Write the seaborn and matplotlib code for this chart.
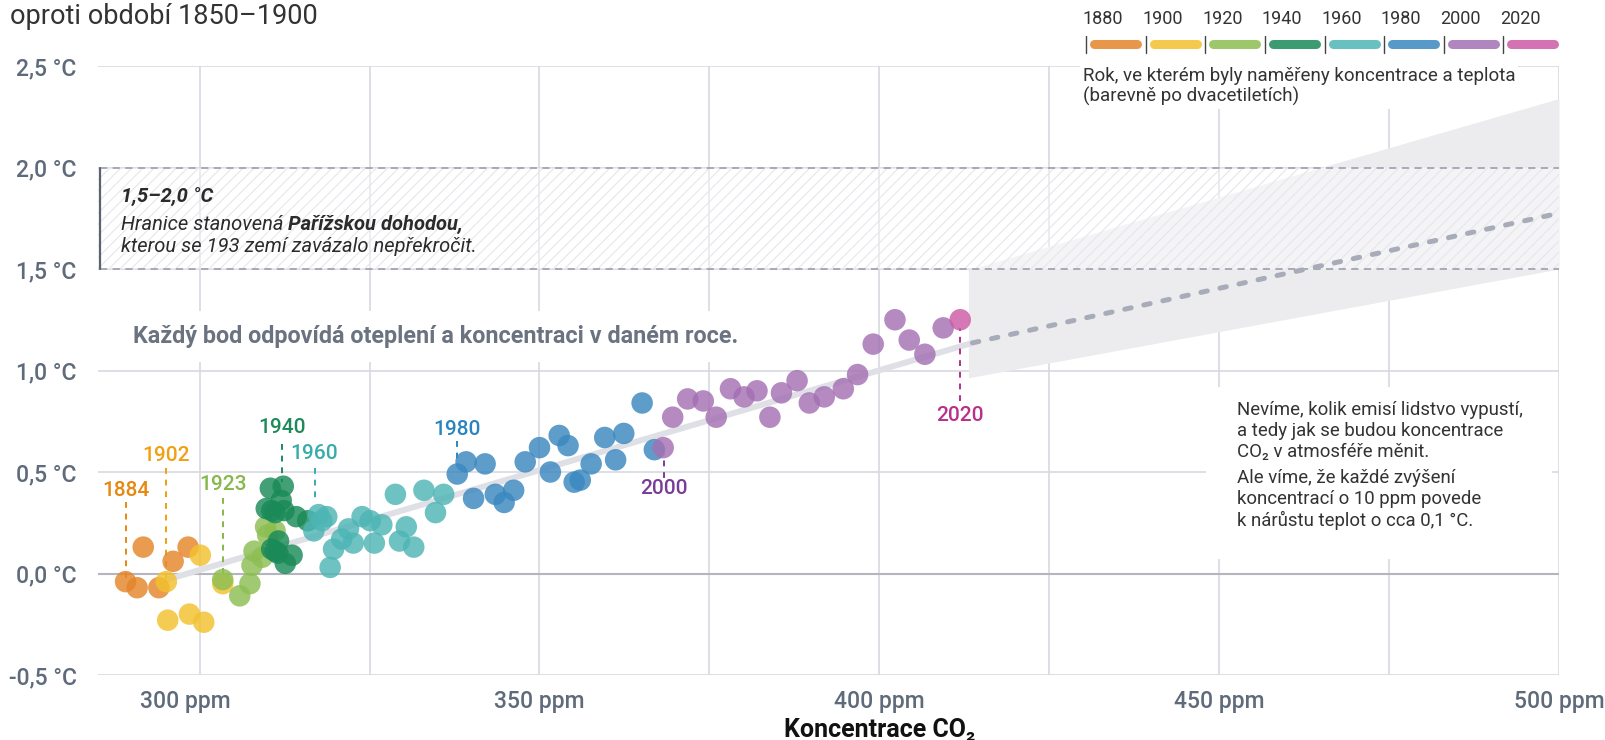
import pandas as pd
import matplotlib
matplotlib.use("Agg")
import matplotlib.pyplot as plt
import seaborn as sns
from matplotlib.lines import Line2D
from matplotlib.patches import Rectangle

# --- DATA ---
PERIODS = ["1880", "1900", "1920", "1940", "1960", "1980", "2000", "2020"]
COLORS = ["#E5852A", "#F2C12E", "#8DBE52", "#1A8A58", "#4EB5B5", "#3A88BF", "#A470B3", "#CD5AA6"]

CO2_1880 = [289.1, 290.8, 291.7, 294.0, 296.1, 298.3]
T_1880 = [-0.04, -0.07, 0.13, -0.07, 0.06, 0.13]
CO2_1900 = [295.1, 295.3, 298.5, 300.1, 300.6, 303.4]
T_1900 = [-0.04, -0.23, -0.20, 0.09, -0.24, -0.05]
CO2_1920 = [303.4, 305.9, 307.4, 307.7, 308.0, 309.2, 309.7, 310.0, 311.1]
T_1920 = [-0.03, -0.11, -0.05, 0.04, 0.11, 0.08, 0.23, 0.19, 0.21]
CO2_1940 = [310.4, 312.3, 312.0, 309.8, 310.6, 311.1, 312.4, 314.2, 315.9,
            311.6, 310.6, 311.1, 311.5, 312.6, 313.6]
T_1940 = [0.42, 0.43, 0.36, 0.32, 0.31, 0.30, 0.31, 0.28, 0.26,
          0.16, 0.12, 0.11, 0.10, 0.05, 0.09]
CO2_1960 = [316.8, 317.5, 318.0, 318.7, 319.2, 319.7, 320.9, 321.9, 322.6, 323.9,
            325.1, 325.7, 326.8, 328.8, 329.4, 330.4, 331.5, 333.0, 334.7, 335.9]
T_1960 = [0.21, 0.29, 0.26, 0.28, 0.03, 0.12, 0.17, 0.22, 0.15, 0.28,
          0.26, 0.15, 0.24, 0.39, 0.16, 0.23, 0.13, 0.41, 0.30, 0.39]
CO2_1980 = [337.9, 339.2, 340.3, 342.0, 343.5, 344.8, 346.2, 347.9, 350.0, 351.6,
            352.9, 354.2, 355.1, 356.0, 357.6, 359.6, 361.2, 362.4, 365.1, 366.9]
T_1980 = [0.49, 0.55, 0.37, 0.54, 0.39, 0.35, 0.41, 0.55, 0.62, 0.50,
          0.68, 0.63, 0.45, 0.46, 0.54, 0.67, 0.56, 0.69, 0.84, 0.61]
CO2_2000 = [368.2, 369.6, 371.8, 374.1, 376.0, 378.1, 380.1, 382.0, 383.9, 385.6,
            387.9, 389.7, 391.9, 394.7, 396.8, 399.1, 402.3, 404.4, 406.7, 409.4]
T_2000 = [0.62, 0.77, 0.86, 0.85, 0.77, 0.91, 0.87, 0.90, 0.77, 0.89,
          0.95, 0.84, 0.87, 0.91, 0.98, 1.13, 1.25, 1.15, 1.08, 1.21]
CO2_2020 = [411.9]
T_2020 = [1.25]

TREND_CO2 = [295.2, 413.7]
TREND_T = [-0.03, 1.136]
PROJ_CO2 = [413.7, 500.0]
PROJ_T = [1.136, 1.775]
CONE_CO2 = [413.1, 500.0]
CONE_LOW = [0.964, 1.50]
CONE_HIGH = [1.497, 2.34]
PARIS_LOW, PARIS_HIGH = 1.5, 2.0

# year call-outs: label, x, label y, dash from, dash to, colour
YEAR_LABELS = ["1884", "1902", "1923", "1940", "1960", "1980", "2000", "2020"]
YEAR_X = [289.1, 295.1, 303.4, 312.1, 316.9, 337.9, 368.3, 411.8]
YEAR_Y = [0.41, 0.58, 0.44, 0.72, 0.59, 0.71, 0.42, 0.78]
DASH_FROM = [0.35, 0.52, 0.37, 0.64, 0.52, 0.655, 0.47, 0.85]
DASH_TO = [-0.02, -0.02, -0.02, 0.45, 0.36, 0.54, 0.59, 1.21]
YEAR_COLORS = ["#E8870F", "#F0A010", "#86B84A", "#1E8A5A", "#3AABAB", "#2A85BF", "#7A3C98", "#B8308A"]

X_TICKS = [300, 350, 400, 450, 500]
X_MINOR = [325, 375, 425, 475]
Y_TICKS = [-0.5, 0.0, 0.5, 1.0, 1.5, 2.0, 2.5]

W, H = 1606, 740
TEXT_DARK = "#2b2b2b"

sns.set_style("white")
plt.rcParams["font.family"] = ["Roboto", "DejaVu Sans"]
plt.rcParams["hatch.linewidth"] = 0.8

df = pd.concat([
    pd.DataFrame({"co2": x, "temp": y, "period": p})
    for x, y, p in zip(
        [CO2_1880, CO2_1900, CO2_1920, CO2_1940, CO2_1960, CO2_1980, CO2_2000, CO2_2020],
        [T_1880, T_1900, T_1920, T_1940, T_1960, T_1980, T_2000, T_2020],
        PERIODS)
], ignore_index=True)

fig = plt.figure(figsize=(W / 100, H / 100), dpi=100)
ax = fig.add_axes([97.7 / W, 1 - 675 / H, (1559 - 97.7) / W, (675 - 66) / H])

ax.set_xlim(285, 500)
ax.set_ylim(-0.5, 2.5)
for s in ax.spines.values():
    s.set_visible(False)

ax.set_xticks(X_TICKS)
ax.set_xticks(X_MINOR, minor=True)
# the first label sits a little left of its gridline in the original, drawn separately below
ax.set_xticklabels([""] + [f"{v} ppm" for v in X_TICKS[1:]])
ax.set_yticks(Y_TICKS)
ax.set_yticklabels([f"{v:.1f} °C".replace(".", ",") for v in Y_TICKS])
ax.tick_params(axis="both", which="both", length=0, labelsize=16.5, labelcolor="#5f6b7a")
ax.tick_params(axis="y", pad=15)
ax.tick_params(axis="x", pad=11)
for lab in ax.get_xticklabels() + ax.get_yticklabels():
    lab.set_fontweight("medium")
ax.annotate(f"{X_TICKS[0]} ppm", xy=(X_TICKS[0], 0), xycoords=("data", "axes fraction"),
            xytext=(-10, -11), textcoords="offset points", ha="center", va="top",
            fontsize=16.5, color="#5f6b7a", fontweight="medium", annotation_clip=False)
ax.grid(which="both", color="#d8d8e0", lw=1.2, zorder=0)
ax.set_axisbelow(True)
ax.axhline(0, color="#b5b5bd", lw=1.5, zorder=0.6)

# projection cone and Paris band
ax.fill_between(CONE_CO2, CONE_LOW, CONE_HIGH, color="#ececef", lw=0, zorder=1.5)
ax.fill_between([285, 500], PARIS_LOW, PARIS_HIGH, facecolor=(1, 1, 1, 0.45),
                edgecolor="#e6e6ec", hatch="///", lw=0, zorder=1.6)
ax.hlines([PARIS_LOW, PARIS_HIGH], 285.3, 500, colors="#a2a6b2",
          linestyles=(0, (4, 3)), lw=1.3, zorder=2)
ax.plot([285.3, 285.3], [PARIS_LOW, PARIS_HIGH], color="#5c6270", lw=1.6,
        clip_on=False, zorder=2.1)

# white panel behind the right-hand note
ax.add_patch(Rectangle((448, 0.07), 51, 0.85, facecolor="white", edgecolor="none", zorder=1.7))

# trend and projection
ax.plot(TREND_CO2, TREND_T, color="#dfdfe6", lw=4.3, solid_capstyle="round", zorder=3)
ax.plot(PROJ_CO2, PROJ_T, color="#a7acb8", lw=3.6, dash_capstyle="round",
        dashes=(1.3, 2.6), zorder=3)

sns.scatterplot(data=df, x="co2", y="temp", hue="period", palette=dict(zip(PERIODS, COLORS)),
                s=240, alpha=0.82, linewidth=0, legend=False, ax=ax, zorder=5)
ax.set_ylabel("")

for lab, x, y, d0, d1, c in zip(YEAR_LABELS, YEAR_X, YEAR_Y, DASH_FROM, DASH_TO, YEAR_COLORS):
    ax.text(x, y, lab, color=c, fontsize=15, fontweight="medium", ha="center", va="center", zorder=6)
    ax.plot([x, x], [d0, d1], color=c, lw=1.4, dashes=(3, 3), zorder=4)

# texts
ax.text(290.2, 1.167, "Každý bod odpovídá oteplení a koncentraci v daném roce.",
        fontsize=16.8, fontweight="bold", color="#6b7280", va="center", zorder=6,
        bbox=dict(boxstyle="square,pad=0.6", fc="white", ec="none"))

ax.text(288.4, 1.85, "1,5–2,0 °C", fontsize=14.5, fontweight="bold", style="italic",
        color=TEXT_DARK, va="center", zorder=6)
t2 = ax.text(288.4, 1.72, "Hranice stanovená ", fontsize=14.5, style="italic",
             color=TEXT_DARK, va="center", zorder=6)
ax.text(288.4, 1.61, "kterou se 193 zemí zavázalo nepřekročit.", fontsize=14.5, style="italic",
        color=TEXT_DARK, va="center", zorder=6)
fig.canvas.draw()
bb = t2.get_window_extent()
x_end = ax.transData.inverted().transform((bb.x1, bb.y0))[0]
ax.text(x_end, 1.72, "Pařížskou dohodou,", fontsize=14.5, style="italic", fontweight="bold",
        color=TEXT_DARK, va="center", zorder=6)

ax.text(452.6, 0.85, "Nevíme, kolik emisí lidstvo vypustí,\na tedy jak se budou koncentrace\n"
        "CO\u2082 v atmosféře měnit.", fontsize=13.4, color="#333333", va="top",
        linespacing=1.22, zorder=6)
ax.text(452.6, 0.515, "Ale víme, že každé zvýšení\nkoncentrací o 10 ppm povede\n"
        "k nárůstu teplot o cca 0,1 °C.", fontsize=13.4, color="#333333", va="top",
        linespacing=1.22, zorder=6)

ax.set_xlabel("Koncentrace CO\u2082", fontsize=18, fontweight="bold", color="#111111")
ax.xaxis.set_label_coords((400 - 285) / 215, -0.0903)
ax.xaxis.label.set_verticalalignment("center")

# period legend at the top right
for i, (p, c) in enumerate(zip(PERIODS, COLORS)):
    x0 = 1086.2 + i * 59.6
    fig.add_artist(Line2D([x0 / W, x0 / W], [1 - 36 / H, 1 - 53 / H], color="#444444", lw=1.0))
    fig.add_artist(Line2D([(x0 + 8) / W, (x0 + 51) / W], [1 - 44 / H, 1 - 44 / H],
                          color=c, alpha=0.85, lw=6.5, solid_capstyle="round"))
    fig.text((x0 + 17) / W, 1 - 19 / H, p, fontsize=13, color="#333333", ha="center", va="center")
fig.text(1083 / W, 1 - 67 / H, "Rok, ve kterém byly naměřeny koncentrace a teplota\n"
         "(barevně po dvacetiletích)", fontsize=13.5, color="#333333", va="top",
         linespacing=1.15, bbox=dict(boxstyle="square,pad=0.15", fc="white", ec="none"))

fig.text(10 / W, 1 - 17 / H, "oproti období 1850–1900", fontsize=19.5,
         color="#333333", va="center")

fig.savefig("out.png", dpi=100)
